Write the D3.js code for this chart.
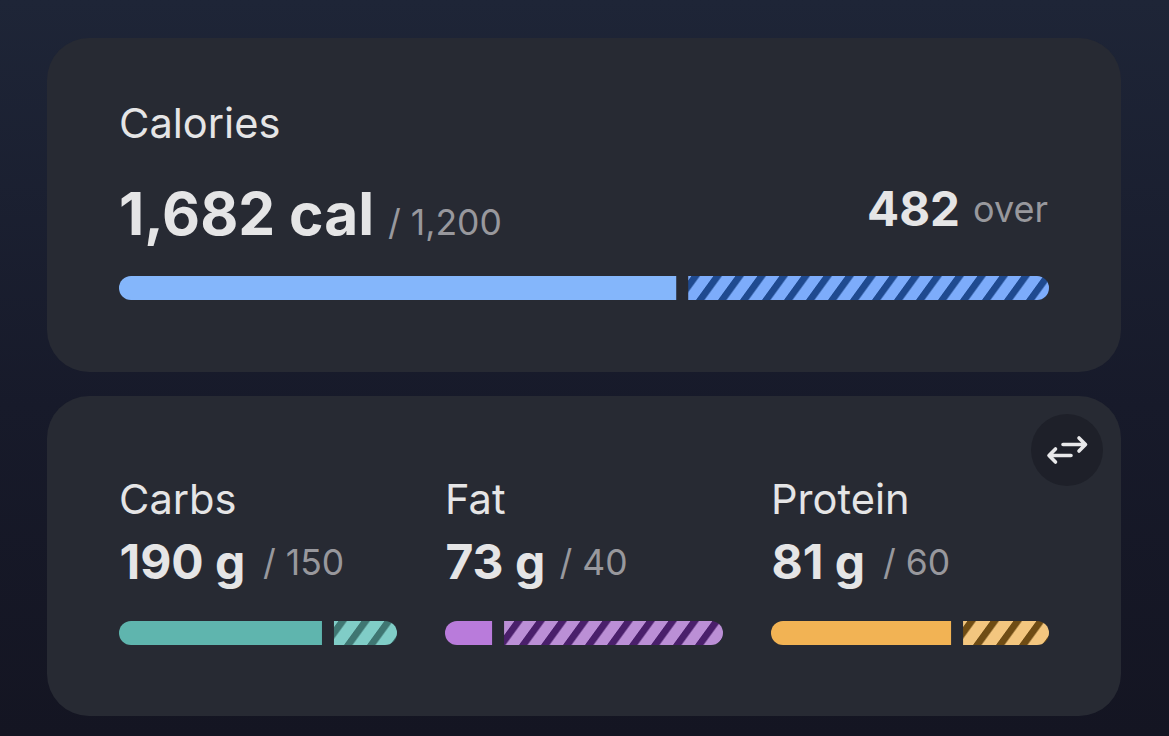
<!DOCTYPE html>
<html><head><meta charset="utf-8">
<script src="https://cdn.jsdelivr.net/npm/d3@7"></script>
<style>html,body{margin:0;padding:0;background:#151624;overflow:hidden}svg{display:block}text{font-family:Inter,sans-serif}</style>
</head><body><svg id="c" width="1169" height="736"></svg>
<script>
const names=["Calories","Carbs","Fat","Protein"];
const consumed=["1,682 cal","190 g","73 g","81 g"];
const goals=["/ 1,200","/ 150","/ 40","/ 60"];
const solidShare=[0.607,0.763,0.177,0.677];
const overValue="482", overLabel="over";
const solidColors=["#84b6fb","#5fb5ae","#b97bdb","#f2b354"];
const lightColors=["#7dacfb","#80cdc7","#bb8fd6","#f3c67f"];
const stripeColors=["#1f4a90","#3f7672","#4a1f6b","#6f4c14"];
const W=1169,H=736,gap=12;
const svg=d3.select("#c"),defs=svg.append("defs");
const bg=defs.append("linearGradient").attr("id","bg").attr("x1",0).attr("x2",0).attr("y1",0).attr("y2",1);
bg.append("stop").attr("offset",0).attr("stop-color","#1e2537");
bg.append("stop").attr("offset",.55).attr("stop-color","#171a2a");
bg.append("stop").attr("offset",1).attr("stop-color","#141522");
svg.append("rect").attr("width",W).attr("height",H).attr("fill","url(#bg)");
[[38,334],[396,320]].forEach(([y,h])=>svg.append("rect").attr("x",47).attr("y",y).attr("width",1074).attr("height",h).attr("rx",42).attr("fill","#272a33"));
const t=(x,y,s,size,weight,fill,anchor)=>svg.append("text").attr("x",x).attr("y",y).text(s).attr("font-size",size).attr("font-weight",weight).attr("fill",fill).attr("text-anchor",anchor||"start");
const hi="#e5e5e6",mute="#98989d";
t(119,138,names[0],41.6,400,hi);
t(119,235,consumed[0],58.6,700,hi);
t(388,235,goals[0],35.5,400,mute);
t(960,226,overValue,47.5,700,hi,"end");
t(1048,222,overLabel,36,400,mute,"end");
const tracks=[[119,1049,276],[119,397,621],[445,723,621],[771,1049,621]];
const phases=[0.4,12.4,3.4,12.4], periods=[22,23,22,23];
tracks.forEach(([x0,x1,y],i)=>{
  const x=d3.scaleLinear().domain([0,1]).range([x0,x1-gap]);
  const split=x(solidShare[i]);
  const clip=defs.append("clipPath").attr("id","cl"+i);
  clip.append("rect").attr("x",x0).attr("y",y).attr("width",x1-x0).attr("height",24).attr("rx",12);
  const p=defs.append("pattern").attr("id","st"+i).attr("patternUnits","userSpaceOnUse").attr("width",periods[i]).attr("height",24)
    .attr("patternTransform",`translate(${x0+phases[i]},${y}) skewX(-36)`);
  p.append("rect").attr("width",periods[i]).attr("height",24).attr("fill",lightColors[i]);
  p.append("rect").attr("width",8.5).attr("height",24).attr("fill",stripeColors[i]);
  const g=svg.append("g").attr("clip-path",`url(#cl${i})`);
  g.append("rect").attr("x",x0).attr("y",y).attr("width",split-x0).attr("height",24).attr("fill",solidColors[i]);
  g.append("rect").attr("x",split+gap).attr("y",y).attr("width",x1-split-gap).attr("height",24).attr("fill",`url(#st${i})`);
});
[[119,263],[445,559.5],[771,883]].forEach(([xa,xb],k)=>{
  const i=k+1;
  t(xa,514,names[i],41.6,400,hi);
  t(xa+.5,579,consumed[i],48,700,hi);
  t(xb,575,goals[i],35.5,400,mute);
});
svg.append("circle").attr("cx",1067).attr("cy",450).attr("r",36).attr("fill","#1e2029");
const ic=svg.append("g").attr("fill","none").attr("stroke","#e8e8ea").attr("stroke-width",3.6).attr("stroke-linecap","round").attr("stroke-linejoin","round");
ic.append("path").attr("d","M1063 444.500H1085M1079 438L1085.500 444.500L1079 451");
ic.append("path").attr("d","M1071 455.500H1049.500M1055.500 449L1049 455.500L1055.500 462");
</script></body></html>
